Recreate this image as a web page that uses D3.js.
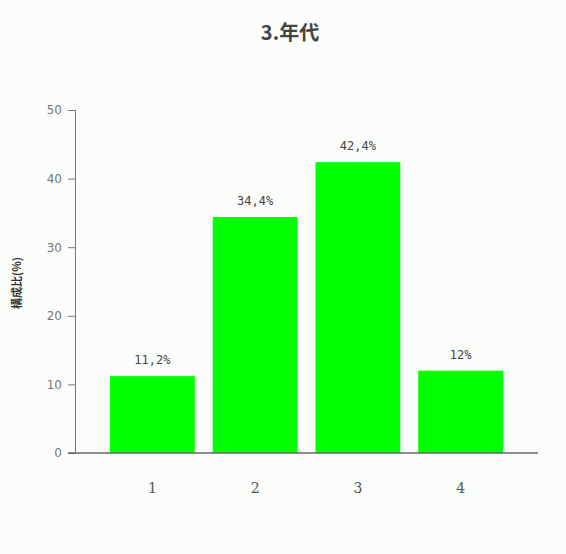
<!DOCTYPE html>
<html><head><meta charset="utf-8">
<script src="https://cdn.jsdelivr.net/npm/d3@7"></script>
<style>body{margin:0;background:#fbfdfb;}svg{display:block;}</style>
</head><body>
<svg id="chart" width="566" height="554"></svg>
<script>
const categories = ["1","2","3","4"];
const values = [11.2, 34.4, 42.4, 12];
const valueLabels = ["11,2%","34,4%","42,4%","12%"];
const yTicks = [0,10,20,30,40,50];
const title = "3.年代";
const yTitle = "構成比(%)";

const svg = d3.select("#chart");
svg.append("rect").attr("width",566).attr("height",554).attr("fill","#fbfdfb");

const y = d3.scaleLinear().domain([0,50]).range([453,110]);
const x = d3.scaleBand().domain(categories).range([101,512]).paddingInner(0.175).paddingOuter(0.0875);

svg.append("text").attr("x",290).attr("y",40).attr("text-anchor","middle")
  .attr("font-family","'Noto Sans CJK JP', sans-serif").attr("font-size",20).attr("font-weight","bold")
  .attr("fill","#444").text(title);

svg.selectAll("rect.bar").data(values).join("rect").attr("class","bar")
  .attr("x",(d,i)=>x(categories[i])).attr("width",x.bandwidth())
  .attr("y",d=>y(d)).attr("height",d=>y(0)-y(d)).attr("fill","#00ff00");

svg.selectAll("text.vl").data(values).join("text").attr("class","vl")
  .attr("x",(d,i)=>x(categories[i])+x.bandwidth()/2).attr("y",d=>y(d)-12)
  .attr("text-anchor","middle").attr("font-family","'DejaVu Sans Mono', monospace").attr("font-size",12)
  .attr("fill","#444").text((d,i)=>valueLabels[i]);

const yAxis = svg.append("g").attr("transform","translate(75,0)")
  .call(d3.axisLeft(y).tickValues(yTicks).tickSize(7).tickPadding(6));
yAxis.select(".domain").attr("stroke","#777");
yAxis.selectAll(".tick line").attr("stroke","#777");
yAxis.selectAll(".tick text").attr("fill","#777").attr("font-family","'DejaVu Sans', sans-serif").attr("font-size",12);

const xAxis = svg.append("g").attr("transform","translate(0,453)")
  .call(d3.axisBottom(x).tickSize(0).tickPadding(30));
xAxis.select(".domain").remove();
xAxis.selectAll(".tick text").attr("fill","#555").attr("font-family","'DejaVu Serif', serif").attr("font-size",14);
svg.append("line").attr("x1",68).attr("x2",538).attr("y1",453).attr("y2",453).attr("stroke","#666").attr("stroke-width",1.5);

svg.append("text").attr("transform","translate(21,283) rotate(-90)").attr("text-anchor","middle")
  .attr("font-family","'Noto Sans CJK JP', sans-serif").attr("font-size",11).attr("font-weight","bold")
  .attr("fill","#333").text(yTitle);
</script>
</body></html>
